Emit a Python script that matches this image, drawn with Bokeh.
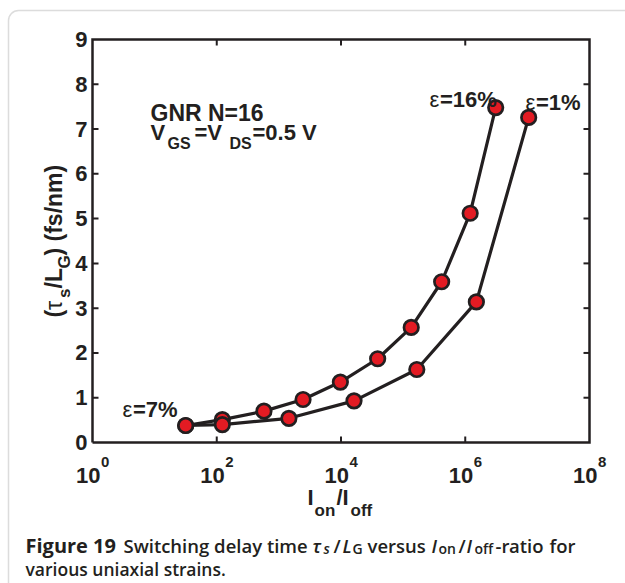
import math
from bokeh.plotting import figure
from bokeh.models import Label, BoxAnnotation, Range1d
from bokeh.embed import file_html
from bokeh.resources import INLINE

# ---- data ----
ratio_16 = [3.16e1, 1.23e2, 5.75e2, 2.45e3, 9.77e3, 3.89e4, 1.35e5, 4.17e5, 1.20e6, 3.09e6]
tau_16 = [0.38, 0.51, 0.70, 0.96, 1.35, 1.87, 2.57, 3.59, 5.12, 7.48]
ratio_1 = [3.16e1, 1.23e2, 1.45e3, 1.62e4, 1.66e5, 1.51e6, 1.05e7]
tau_1 = [0.38, 0.40, 0.54, 0.93, 1.63, 3.14, 7.26]
x_ticks = [1, 1e2, 1e4, 1e6, 1e8]
x_exps = ["0", "2", "4", "6", "8"]
y_ticks = [0, 1, 2, 3, 4, 5, 6, 7, 8, 9]
x_min, x_max = 1, 1e8
y_min, y_max = 0, 9

W, H = 625, 583
L, R, T, B = 92, 589, 39, 442
FONT = "Liberation Sans"
CAP = "Open Sans"
CAPS = "Open Sans SemiBold"
INK = "#231f20"


def X(px):
    return 10 ** ((px - L) / ((R - L) / 8.0))


def Y(py):
    return (B - py) / ((B - T) / 9.0)


def PX(x):
    return L + (R - L) / 8.0 * math.log10(x)


p = figure(width=W, height=H, x_axis_type="log", output_backend="svg",
           toolbar_location=None, x_range=Range1d(X(0), X(W)), y_range=Range1d(Y(H), Y(0)),
           min_border=0, x_axis_location=None, y_axis_location=None)
p.grid.visible = False
p.outline_line_color = None
p.background_fill_color = "white"
p.border_fill_color = "white"

# axes box and inward ticks (through the scales)
tick_x0, tick_x1, tick_y0, tick_y1 = [], [], [], []
for t in x_ticks[1:-1]:
    tick_x0 += [t, t]
    tick_x1 += [t, t]
    tick_y0 += [y_min, y_max]
    tick_y1 += [Y(B - 6), Y(T + 6)]
for v in y_ticks[1:-1]:
    tick_x0 += [x_min, x_max]
    tick_x1 += [X(L + 6), X(R - 6)]
    tick_y0 += [v, v]
    tick_y1 += [v, v]
p.segment(tick_x0, tick_y0, tick_x1, tick_y1, line_color=INK, line_width=2)
p.line([x_min, x_max, x_max, x_min, x_min], [y_min, y_min, y_max, y_max, y_min],
       line_color=INK, line_width=2.5, line_join="miter")

# curves
for xs, ys in [(ratio_16, tau_16), (ratio_1, tau_1)]:
    p.line(xs, ys, line_color=INK, line_width=3.2)
    p.scatter(xs, ys, size=14.5, fill_color="#e31b23", line_color=INK, line_width=2.7)


def lab(text, px, py, size, style="bold", font=FONT, align="left", baseline="alphabetic", angle=0):
    p.add_layout(Label(x=X(px), y=Y(py), text=text, text_font=font, text_font_size=f"{size}px",
                       text_font_style=style, text_color=INK, text_align=align,
                       text_baseline=baseline, angle=angle))


# y tick labels
for v in y_ticks:
    p.add_layout(Label(x=X(87), y=v, text=str(v), text_font=FONT, text_font_size="22px",
                       text_font_style="bold", text_color=INK, text_align="right",
                       text_baseline="middle"))
# x tick labels
for t, e in zip(x_ticks, x_exps):
    tp = PX(t)
    lab("10", tp + 8, 475, 22, align="right")
    lab(e, tp + 8.5, 461, 15)

# x axis label
lab("I", 307, 497, 22)
lab("on", 314, 510, 17)
lab("/I", 336, 497, 22)
lab("off", 350, 510, 17)

# y axis label (rotated)
A = math.pi / 2
lab("(", 53, 317, 23, angle=A)
lab("τ", 53, 309.5, 23, style="normal", angle=A)
lab("s", 64, 297.5, 17, angle=A)
lab("/L", 53, 288, 23, angle=A)
lab("G", 64, 268, 17, angle=A)
lab(") (fs/nm)", 53, 255, 23, angle=A)

# annotation
lab("GNR N=16", 150, 112, 23)
lab("V", 150, 132, 22)
lab("GS", 167, 143, 16)
lab("=V", 194, 132, 22)
lab("DS", 229, 143, 16)
lab("=0.5 V", 252, 132, 22)

# strain labels
for eps, rest, px, py in [("ε", "=16%", 429, 99), ("ε", "=1%", 525, 102), ("ε", "=7%", 122, 409)]:
    lab(eps, px, py, 22, style="normal")
    lab(rest, px + 10.5, py, 22)

# caption
C1 = 18.5
lab("Figure 19", 25, 545, 20, font=CAP)
lab("Switching delay time", 123, 545, C1, style="normal", font=CAPS)
lab("τ", 312, 545, C1, style="italic", font=CAPS)
lab("s", 323, 548, 14, style="italic", font=CAPS)
lab("/", 333, 545, C1, style="normal", font=CAPS)
lab("L", 342, 545, C1, style="italic", font=CAPS)
lab("G", 352, 548, 14, style="normal", font=CAPS)
lab("versus", 367, 545, C1, style="normal", font=CAPS)
lab("I", 431, 545, C1, style="italic", font=CAPS)
lab("on", 438, 548, 14, style="normal", font=CAPS)
lab("/", 458, 545, C1, style="normal", font=CAPS)
lab("I", 466, 545, C1, style="italic", font=CAPS)
lab("off", 474, 548, 14, style="normal", font=CAPS)
lab("-ratio", 495, 545, C1, style="normal", font=CAPS)
lab("for", 549, 545, C1, style="normal", font=CAPS)
lab("various uniaxial strains.", 25, 568, 17.5, style="normal", font=CAPS)

# page frame (added last)
p.add_layout(BoxAnnotation(left=8, right=W + 40, top=10, bottom=H + 40,
                           left_units="canvas", right_units="canvas",
                           top_units="canvas", bottom_units="canvas",
                           fill_color=None, line_color="#8a8a8a", line_width=1.5,
                           border_radius=10))

open("out.html", "w").write(file_html(p, INLINE))
